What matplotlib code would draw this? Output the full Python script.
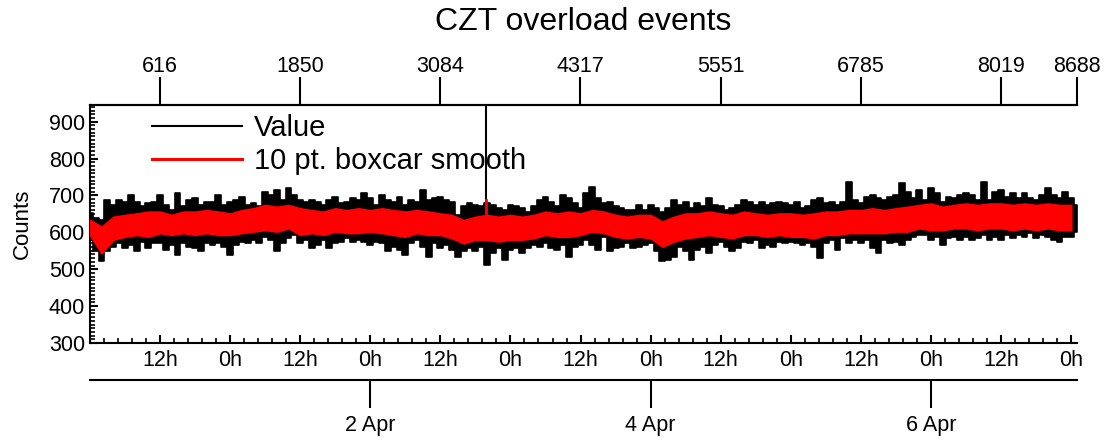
import numpy as np
import matplotlib
matplotlib.use('Agg')
import matplotlib.pyplot as plt
from matplotlib.lines import Line2D
from matplotlib.ticker import MultipleLocator, FuncFormatter

plt.rcParams['font.family'] = ['Liberation Sans', 'DejaVu Sans']

# hours since 31 Mar 0h, one reading per hour: upper / lower edge of the raw counts
hours = np.arange(170)
value_hi = [651, 638, 634, 688, 674, 688, 683, 701, 683, 670, 679, 683,
            701, 674, 661, 706, 670, 688, 692, 674, 683, 683, 701, 674,
            683, 688, 697, 674, 679, 670, 710, 701, 715, 688, 719, 701,
            688, 683, 688, 683, 674, 688, 697, 679, 683, 692, 688, 706,
            692, 674, 701, 688, 683, 697, 674, 688, 683, 715, 688, 692,
            697, 688, 683, 647, 670, 679, 674, 670, 679, 674, 665, 661,
            674, 670, 665, 656, 670, 688, 697, 683, 670, 701, 692, 679,
            665, 706, 724, 692, 679, 683, 670, 665, 661, 661, 674, 661,
            674, 665, 656, 665, 688, 674, 683, 665, 679, 670, 692, 674,
            670, 661, 665, 674, 688, 683, 674, 683, 674, 679, 683, 679,
            674, 683, 665, 670, 688, 692, 679, 683, 674, 683, 737, 688,
            679, 697, 701, 692, 688, 697, 701, 733, 710, 692, 715, 688,
            719, 706, 683, 697, 692, 701, 706, 701, 688, 737, 688, 710,
            715, 697, 706, 692, 706, 692, 688, 701, 719, 701, 692, 710,
            692, 674]
value_lo = [580, 548, 521, 548, 561, 570, 557, 566, 548, 575, 557, 570,
            570, 552, 566, 539, 570, 561, 557, 548, 570, 566, 570, 561,
            539, 566, 575, 570, 579, 570, 588, 579, 548, 570, 584, 593,
            570, 579, 557, 566, 579, 557, 570, 575, 584, 575, 579, 575,
            566, 575, 570, 548, 561, 552, 539, 570, 579, 561, 534, 570,
            557, 566, 552, 534, 548, 557, 548, 561, 512, 543, 557, 525,
            552, 557, 543, 557, 566, 561, 570, 557, 552, 566, 534, 561,
            566, 579, 566, 552, 588, 548, 557, 561, 570, 557, 561, 566,
            570, 548, 521, 525, 534, 561, 548, 525, 552, 561, 543, 566,
            575, 561, 548, 557, 575, 570, 579, 557, 566, 561, 575, 570,
            575, 570, 566, 570, 561, 530, 570, 579, 552, 584, 570, 579,
            570, 579, 557, 543, 579, 570, 575, 566, 579, 588, 593, 593,
            579, 588, 566, 584, 588, 579, 588, 579, 584, 593, 579, 588,
            579, 593, 584, 593, 588, 597, 584, 593, 588, 579, 575, 588,
            588, 602]

# 10 pt. boxcar smooth, every 2 hours: upper / lower edge
smooth_hours = np.arange(0, 170, 2)
smooth_hi = [634, 615, 642, 647, 651, 656, 656, 647, 656, 656, 660, 656, 651, 660,
             665, 674, 669, 674, 665, 660, 656, 665, 660, 665, 660, 665, 660, 656,
             660, 656, 651, 647, 633, 642, 647, 642, 647, 642, 647, 656, 651, 656, 651,
             660, 656, 647, 642, 647, 647, 629, 642, 651, 651, 656, 651, 647, 656,
             651, 647, 651, 651, 647, 651, 656, 656, 660, 660, 665, 660, 665, 669,
             674, 678, 669, 674, 678, 674, 678, 678, 674, 678, 674, 678, 674, 674]
smooth_lo = [593, 543, 580, 588, 593, 588, 598, 593, 598, 593, 598, 593, 593, 598,
             602, 606, 602, 611, 593, 598, 593, 602, 598, 598, 602, 598, 593, 588,
             598, 593, 593, 584, 570, 580, 580, 575, 580, 580, 584, 593, 588, 588, 593,
             602, 598, 588, 584, 588, 584, 561, 575, 584, 588, 593, 588, 584, 593,
             593, 588, 593, 588, 588, 584, 593, 593, 598, 598, 598, 598, 602, 602,
             611, 606, 606, 611, 611, 606, 611, 611, 606, 611, 606, 611, 606, 606]

# one overload burst
burst_hour = 67.8
burst_base = 575
burst_value = 1290
burst_smooth_base = 610
burst_smooth = 687

start_hour = 0.02
n_points = 8688
pts_per_day = 1234
index_ticks = [616, 1850, 3084, 4317, 5551, 6785, 8019, 8688]
day_hours = [48, 96, 144]
day_labels = ['2 Apr', '4 Apr', '6 Apr']

W, H = 1111, 440
fig = plt.figure(figsize=(W / 100, H / 100), dpi=100)
ax = fig.add_axes([90 / W, 1 - 343 / H, (1077 - 90) / W, (343 - 105) / H])

# raw trace, shown as the hourly high/low span
ax.fill_between(hours, value_lo, value_hi, step='mid', color='black', lw=1.2, zorder=2)
ax.plot([burst_hour, burst_hour], [burst_base, burst_value], color='black', lw=1.5, zorder=2)

# smoothed trace on top
ax.fill_between(smooth_hours, smooth_lo, smooth_hi, color='red', lw=1.2, zorder=3)
ax.plot([burst_hour, burst_hour], [burst_smooth_base, burst_smooth], color='red', lw=2, zorder=3)

end_hour = start_hour + n_points * 24 / pts_per_day
ax.set_xlim(start_hour, end_hour)
ax.set_ylim(300, 945)

for s in ['left', 'bottom', 'top']:
    ax.spines[s].set_linewidth(1.5)
ax.spines['right'].set_visible(False)

ax.yaxis.set_major_locator(MultipleLocator(100))
ax.yaxis.set_minor_locator(MultipleLocator(10))
ax.xaxis.set_major_locator(MultipleLocator(12))
ax.xaxis.set_minor_locator(MultipleLocator(2.4))
ax.xaxis.set_major_formatter(FuncFormatter(lambda h, p: f'{int(round(h)) % 24}h'))
ax.tick_params(which='major', direction='in', length=6, width=1.5, labelsize=15.5)
ax.tick_params(which='minor', direction='in', length=3.5, width=1.2)
ax.tick_params(axis='x', pad=5)
ax.tick_params(top=False, right=False, which='both')
ax.set_ylabel('Counts', fontsize=16)
ax.yaxis.set_label_coords(-0.058, 0.5)

# point index along the top
top = ax.secondary_xaxis('top', functions=(lambda h: (h - start_hour) * pts_per_day / 24,
                                           lambda i: i * 24 / pts_per_day + start_hour))
top.set_xticks(index_ticks)
top.set_xticklabels([str(i) for i in index_ticks])
top.tick_params(direction='out', length=20, width=1.5, labelsize=15.5, pad=0)
top.spines['top'].set_linewidth(1.5)

# day axis below
days = ax.secondary_xaxis(-37 / 238)
days.set_xticks(day_hours)
days.set_xticklabels(day_labels)
days.tick_params(direction='out', length=20, width=1.5, labelsize=15.5, pad=5)
days.spines['bottom'].set_linewidth(1.5)

handles = [Line2D([], [], color='black', lw=1.5), Line2D([], [], color='red', lw=2.2)]
ax.legend(handles, ['Value', '10 pt. boxcar smooth'], loc='upper left',
          bbox_to_anchor=(0.0628, 0.962), frameon=False, fontsize=21,
          handlelength=3.1, handletextpad=0.4, labelspacing=0.17,
          borderpad=0, borderaxespad=0)

fig.text((90 + 1077) / 2 / W, 1 - 22 / H, 'CZT overload events', ha='center', va='center',
         fontsize=23)

fig.savefig('out.png', dpi=100)
